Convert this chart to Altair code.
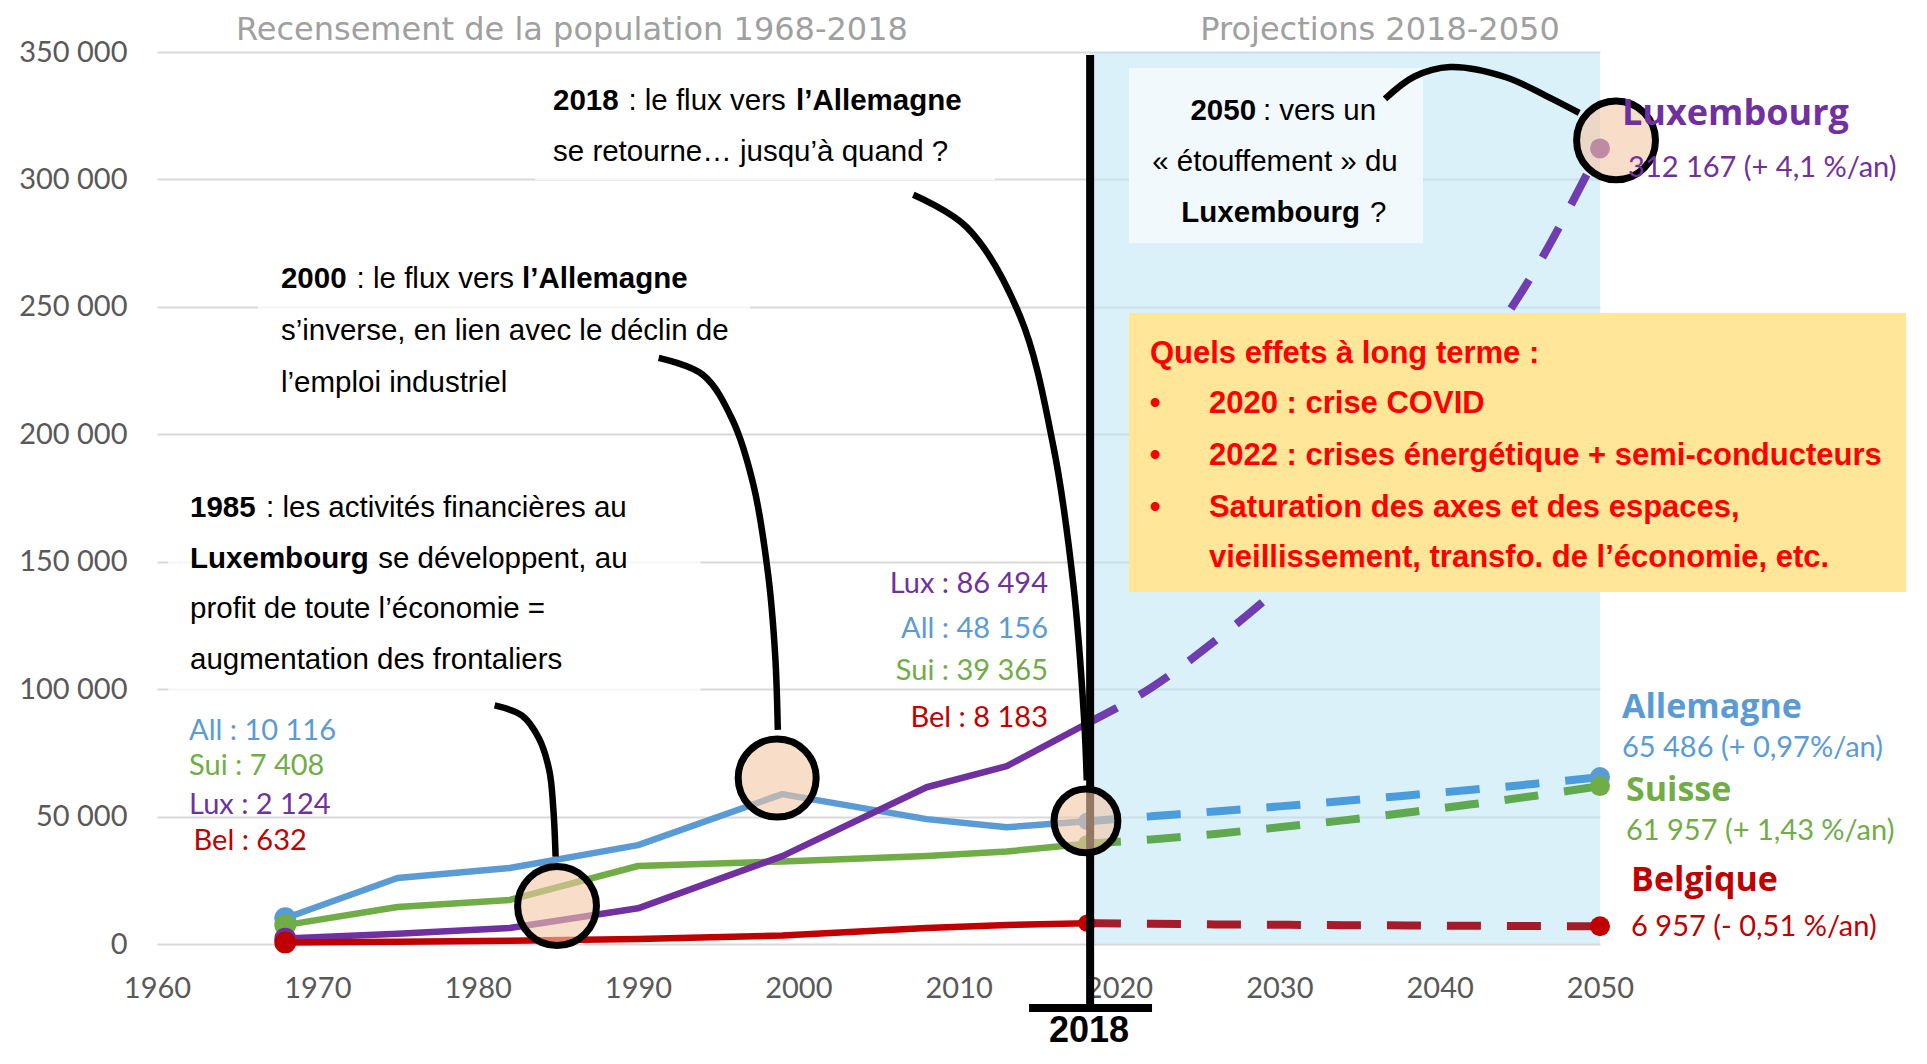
import altair as alt
import pandas as pd

# ---------------- data ----------------
series_names = ["Allemagne", "Suisse", "Luxembourg", "Belgique"]
line_colors = ["#5B9BD5", "#70AD47", "#7030A0", "#C00000"]
proj_colors = ["#4A9CDC", "#5FAA50", "#6F3DB0", "#A61B29"]

census_years = [1968, 1975, 1982, 1990, 1999, 2008, 2013, 2018]
allemagne = [10116, 25900, 29800, 38800, 58800, 49000, 45800, 48156]
suisse = [7408, 14500, 17300, 30600, 32400, 34500, 36300, 39365]
luxembourg = [2124, 4000, 6300, 14000, 34500, 61500, 69800, 86494]
belgique = [632, 900, 1300, 2000, 3300, 6300, 7500, 8183]

proj_years = [2018, 2022, 2026, 2030, 2034, 2038, 2042, 2046, 2050]
allemagne_proj = [48156, 50100, 52000, 54000, 56100, 58300, 60500, 62900, 65486]
suisse_proj = [39365, 41000, 43200, 45800, 48500, 51600, 54800, 58200, 61957]
luxembourg_proj = [86494, 100500, 119000, 140000, 165000, 194000, 227000, 265000, 312167]
belgique_proj = [8183, 7900, 7700, 7550, 7400, 7300, 7150, 7050, 6957]

x_ticks = list(range(1960, 2051, 10))
y_ticks = list(range(0, 350001, 50000))

# annotation anchors (data units: year, value)
circle_x = [1984.95, 1998.68, 2017.94, 2051.0]
circle_y = [14900, 65100, 48300, 315300]
circle_size = [6221, 6082, 4072, 6221]

curve_a_x = [1981.06, 1982.77, 1983.81, 1984.47, 1984.73, 1984.86]
curve_a_y = [93600, 89600, 80800, 68000, 52000, 34300]
curve_b_x = [1991.29, 1994.05, 1995.89, 1997.20, 1998.12, 1998.56, 1998.72]
curve_b_y = [230000, 223300, 205700, 180100, 144800, 112800, 84000]
curve_c_x = [2007.17, 2010.50, 2013.83, 2015.90, 2017.15, 2017.82, 2017.99]
curve_c_y = [294000, 281300, 246300, 195500, 141200, 88700, 64200]
curve_d_x = [2036.59, 2038.40, 2040.65, 2044.08, 2046.76, 2048.70]
curve_d_y = [331600, 340300, 344100, 340200, 332400, 326100]

BLUE, GREEN, PURPLE, RED = line_colors
SANS = "Liberation Sans, Arial, sans-serif"
LATO = "Lato, sans-serif"
OPEN = "Open Sans, sans-serif"
DEJA = "DejaVu Sans, sans-serif"
AN = 29.5   # annotation size
YB = 31     # yellow box size
VL = 29     # value labels size
NM = 34     # series name size

# text: (text, x, y, font, size, weight, align, color)
texts = [
    ("Recensement de la population 1968-2018", 1985.88, 354700, DEJA, 32, "normal", "center", "#A0A0A0"),
    ("Projections 2018-2050", 2036.28, 354700, DEJA, 32, "normal", "center", "#A0A0A0"),
    # 2018 note
    ("2018", 1984.70, 327200, SANS, AN, "bold", "left", "black"),
    (": le flux vers", 1989.40, 327200, SANS, AN, "normal", "left", "black"),
    ("l’Allemagne", 1999.86, 327200, SANS, AN, "bold", "left", "black"),
    ("se retourne… jusqu’à quand ?", 1984.70, 307200, SANS, AN, "normal", "left", "black"),
    # 2000 note
    ("2000", 1967.73, 257400, SANS, AN, "bold", "left", "black"),
    (": le flux vers", 1972.45, 257400, SANS, AN, "normal", "left", "black"),
    ("l’Allemagne", 1982.77, 257400, SANS, AN, "bold", "left", "black"),
    ("s’inverse, en lien avec le déclin de", 1967.73, 237000, SANS, AN, "normal", "left", "black"),
    ("l’emploi industriel", 1967.73, 216600, SANS, AN, "normal", "left", "black"),
    # 1985 note
    ("1985", 1962.06, 167500, SANS, AN, "bold", "left", "black"),
    (": les activités financières au", 1966.80, 167500, SANS, AN, "normal", "left", "black"),
    ("Luxembourg", 1962.06, 147700, SANS, AN, "bold", "left", "black"),
    ("se développent, au", 1173.80 + 800, 147700, SANS, AN, "normal", "left", "black"),
    ("profit de toute l’économie =", 1962.06, 127900, SANS, AN, "normal", "left", "black"),
    ("augmentation des frontaliers", 1962.06, 107900, SANS, AN, "normal", "left", "black"),
    # 2050 note
    ("2050", 2028.55, 323300, SANS, AN, "bold", "right", "black"),
    (": vers un", 2028.98, 323300, SANS, AN, "normal", "left", "black"),
    ("« étouffement » du", 2029.73, 303300, SANS, AN, "normal", "center", "black"),
    ("Luxembourg", 2035.03, 283300, SANS, AN, "bold", "right", "black"),
    ("?", 2035.66, 283300, SANS, AN, "normal", "left", "black"),
    # yellow box
    ("Quels effets à long terme :", 2021.93, 228000, SANS, YB, "bold", "left", "#FF0000"),
    ("•", 2022.25, 208400, SANS, YB, "bold", "center", "#FF0000"),
    ("2020 : crise COVID", 2025.61, 208400, SANS, YB, "bold", "left", "#FF0000"),
    ("•", 2022.25, 188000, SANS, YB, "bold", "center", "#FF0000"),
    ("2022 : crises énergétique + semi-conducteurs", 2025.61, 188000, SANS, YB, "bold", "left", "#FF0000"),
    ("•", 2022.25, 167500, SANS, YB, "bold", "center", "#FF0000"),
    ("Saturation des axes et des espaces,", 2025.61, 167500, SANS, YB, "bold", "left", "#FF0000"),
    ("vieillissement, transfo. de l’économie, etc.", 2025.61, 147900, SANS, YB, "bold", "left", "#FF0000"),
    # values 1968
    ("All : 10 116", 1962.00, 80000, LATO, VL, "normal", "left", BLUE),
    ("Sui : 7 408", 1962.00, 66300, LATO, VL, "normal", "left", GREEN),
    ("Lux : 2 124", 1962.00, 51000, LATO, VL, "normal", "left", PURPLE),
    ("Bel : 632", 1962.28, 36900, LATO, VL, "normal", "left", RED),
    # values 2018
    ("Lux : 86 494", 2015.57, 137700, LATO, VL, "normal", "right", PURPLE),
    ("All : 48 156", 2015.57, 120100, LATO, VL, "normal", "right", BLUE),
    ("Sui : 39 365", 2015.57, 103600, LATO, VL, "normal", "right", GREEN),
    ("Bel : 8 183", 2015.57, 85100, LATO, VL, "normal", "right", RED),
    # 2050 labels
    ("Luxembourg", 2051.37, 321400, OPEN, NM + 2, "bold", "left", PURPLE),
    ("312 167 (+ 4,1 %/an)", 2051.75, 301000, LATO, VL, "normal", "left", PURPLE),
    ("Allemagne", 2051.37, 88500, OPEN, NM, "bold", "left", BLUE),
    ("65 486 (+ 0,97%/an)", 2051.37, 73300, LATO, VL, "normal", "left", BLUE),
    ("Suisse", 2051.62, 56300, OPEN, NM, "bold", "left", GREEN),
    ("61 957 (+ 1,43 %/an)", 2051.62, 40800, LATO, VL, "normal", "left", GREEN),
    ("Belgique", 2051.94, 20800, OPEN, NM, "bold", "left", RED),
    ("6 957 (- 0,51 %/an)", 2051.94, 3000, LATO, VL, "normal", "left", RED),
    # 2018 marker label
    ("2018", 2018.13, -38500, SANS, 36, "bold", "center", "black"),
]

# ---------------- frames ----------------
solid_rows, proj_rows, marker_rows = [], [], []
all_census = [allemagne, suisse, luxembourg, belgique]
all_proj = [allemagne_proj, suisse_proj, luxembourg_proj, belgique_proj]
for name, col, pcol, vals, pvals in zip(series_names, line_colors, proj_colors, all_census, all_proj):
    for yr, v in zip(census_years, vals):
        solid_rows.append({"x": yr, "y": v, "c": col})
    for yr, v in zip(proj_years, pvals):
        proj_rows.append({"x": yr, "y": v, "c": pcol})
    marker_rows.append({"x": census_years[0], "y": vals[0], "c": col, "s": 480})
    marker_rows.append({"x": proj_years[-1], "y": pvals[-1], "c": col, "s": 400})
    if name != "Luxembourg":
        marker_rows.append({"x": census_years[-1], "y": vals[-1], "c": col, "s": 300})
solid_df = pd.DataFrame(solid_rows)
proj_df = pd.DataFrame(proj_rows)
marker_df = pd.DataFrame(marker_rows)

curve_rows = []
for cid, (cx, cy) in enumerate([(curve_a_x, curve_a_y), (curve_b_x, curve_b_y),
                                 (curve_c_x, curve_c_y), (curve_d_x, curve_d_y)]):
    for i, (a, b) in enumerate(zip(cx, cy)):
        curve_rows.append({"x": a, "y": b, "curve": cid, "i": i})
curve_df = pd.DataFrame(curve_rows)

circle_df = pd.DataFrame({"x": circle_x, "y": circle_y, "s": circle_size})

# ---------------- encodings ----------------
X = alt.X("x:Q", scale=alt.Scale(domain=[1960, 2050], nice=False, zero=False),
          axis=alt.Axis(values=x_ticks, format="d", grid=False, domain=False, ticks=False,
                        labelFont="Lato", labelFontSize=29, labelColor="#595959",
                        labelPadding=30, labelFlush=False, title=None))
Y = alt.Y("y:Q", scale=alt.Scale(domain=[0, 350000], nice=False, zero=False),
          axis=alt.Axis(values=y_ticks, grid=True, gridColor="#D9D9D9", gridWidth=2,
                        domain=False, ticks=False, labelFont="Lato", labelFontSize=29,
                        labelColor="#595959", labelPadding=30, title=None,
                        labelExpr="datum.value == 0 ? '0' : format(datum.value / 1000, 'd') + ' 000'"))
X2 = alt.X2("x2:Q")
Y2 = alt.Y2("y2:Q")


def rect_layer(x1, x2, y1, y2, **kw):
    df = pd.DataFrame({"x": [x1], "x2": [x2], "y": [y1], "y2": [y2]})
    return alt.Chart(df).mark_rect(**kw).encode(x=X, x2=X2, y=Y, y2=Y2)


layers = []
# faint white boxes behind notes (lighten the gridlines)
layers.append(rect_layer(1983.58, 2012.27, 346900, 299800, color="white", opacity=0.75))
layers.append(rect_layer(1966.3, 1997.0, 273900, 208700, color="white", opacity=0.75))
layers.append(rect_layer(1960.7, 1993.9, 182100, 95700, color="white", opacity=0.75))
# projection shading
layers.append(rect_layer(2018.2, 2050, 0, 350000, color="#BDE6F6", opacity=0.55))

# lines
layers.append(alt.Chart(solid_df).mark_line(strokeWidth=6.5, interpolate="linear",
                                            strokeJoin="round", strokeCap="round").encode(
    x=X, y=Y, color=alt.Color("c:N", scale=None)))
layers.append(alt.Chart(proj_df).mark_line(strokeWidth=8, strokeDash=[34, 26], interpolate="monotone").encode(
    x=X, y=Y, color=alt.Color("c:N", scale=None)))
layers.append(alt.Chart(marker_df).mark_circle(opacity=1).encode(
    x=X, y=Y, color=alt.Color("c:N", scale=None), size=alt.Size("s:Q", scale=None)))

# boxes
layers.append(rect_layer(2020.62, 2038.96, 343700, 275100, color="#F4FAFD", opacity=0.92))
layers.append(rect_layer(2020.62, 2069.09, 247600, 138100, color="#FFE699", opacity=1))

# 2018 separator
sep_df = pd.DataFrame({"x": [2018.2], "y": [348800], "y2": [-25100]})
layers.append(alt.Chart(sep_df).mark_rule(color="black", strokeWidth=8).encode(x=X, y=Y, y2=Y2))
bar_df = pd.DataFrame({"x": [2014.39], "x2": [2022.06], "y": [-25100]})
layers.append(alt.Chart(bar_df).mark_rule(color="black", strokeWidth=8).encode(x=X, x2=X2, y=Y))

# circles
layers.append(alt.Chart(circle_df).mark_point(shape="circle", filled=True, fill="#F4C7A5",
                                             fillOpacity=0.6, stroke="black", strokeWidth=7,
                                             strokeOpacity=1, opacity=1).encode(
    x=X, y=Y, size=alt.Size("s:Q", scale=None)))
# connectors
layers.append(alt.Chart(curve_df).mark_line(color="black", strokeWidth=6.5, interpolate="catmull-rom").encode(
    x=X, y=Y, detail="curve:N", order="i:Q"))

# texts grouped by style
tdf = pd.DataFrame(texts, columns=["t", "x", "y", "font", "size", "weight", "align", "c"])
for (font, size, weight, align), g in tdf.groupby(["font", "size", "weight", "align"]):
    layers.append(alt.Chart(g.reset_index(drop=True)).mark_text(
        font=font, fontSize=float(size), fontWeight=weight, align=align, baseline="alphabetic").encode(
        x=X, y=Y, text="t:N", color=alt.Color("c:N", scale=None)))

chart = alt.layer(*layers).properties(
    width=1443, height=892,
    padding={"left": 149, "top": 44, "right": 313, "bottom": 107},
    autosize=alt.AutoSizeParams(type="none"),
    background="white",
).configure_view(stroke=None)

chart.save("out.html", embed_options={"renderer": "svg", "actions": False})
